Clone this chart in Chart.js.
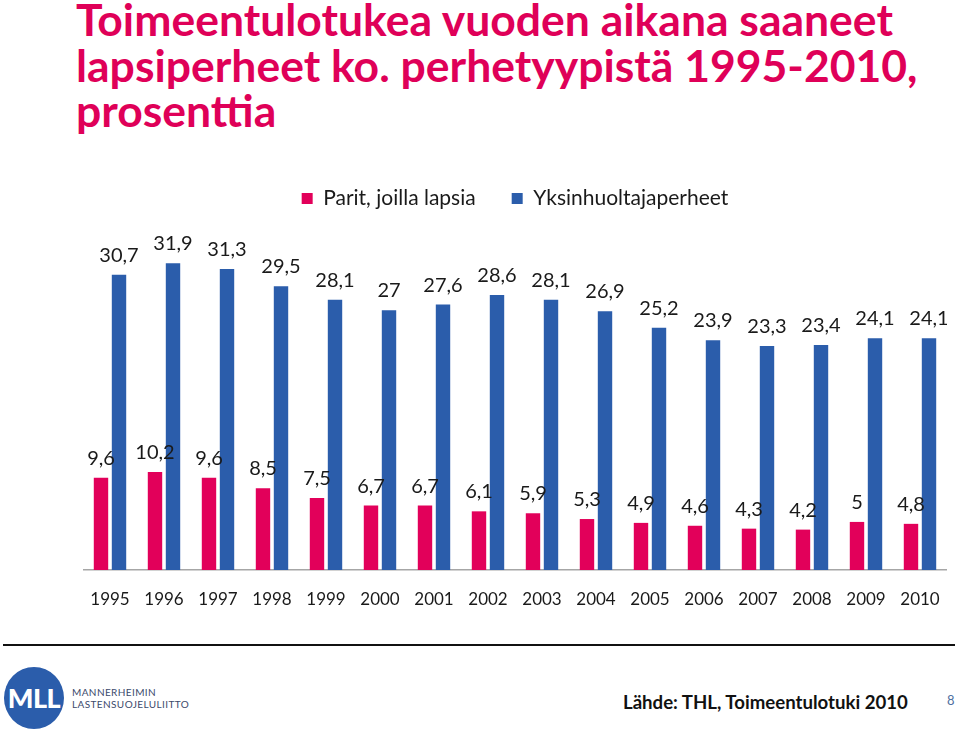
<!DOCTYPE html>
<html><head><meta charset="utf-8">
<script src="https://cdn.jsdelivr.net/npm/chart.js@4.4.1/dist/chart.umd.min.js"></script>
<style>
html,body{margin:0;padding:0;background:#fff;width:959px;height:732px;overflow:hidden;position:relative;font-family:Lato,"Open Sans",sans-serif;}
.t{position:absolute;left:76px;color:#DF0058;font-weight:700;white-space:nowrap;line-height:1.2;}
#cv{position:absolute;left:83px;top:152px;}
#rule{position:absolute;left:3px;top:644px;width:952px;height:2px;background:#111;}
#logo{position:absolute;left:4px;top:667px;width:60px;height:62px;border-radius:50%;background:#2B5DAB;color:#fff;font-weight:900;font-size:27px;text-align:center;line-height:62px;letter-spacing:-0.5px;}
.lt{position:absolute;left:72px;font-size:10px;color:#3B4A6B;letter-spacing:0.4px;line-height:12px;white-space:nowrap;}
#src{position:absolute;left:623px;font-weight:700;color:#111;white-space:nowrap;line-height:1.2;}
#pg{position:absolute;left:947px;top:692px;font-size:13px;color:#4F6FA0;}
</style></head>
<body>
<div class="t" id="t1">Toimeentulotukea vuoden aikana saaneet</div>
<div class="t" id="t2">lapsiperheet ko. perhetyypistä 1995-2010,</div>
<div class="t" id="t3">prosenttia</div>
<canvas id="cv" width="864" height="468"></canvas>
<div id="rule"></div>
<div id="logo">MLL</div>
<div class="lt" style="top:686px">MANNERHEIMIN</div>
<div class="lt" style="top:698px">LASTENSUOJELULIITTO</div>
<div id="src">Lähde: THL, Toimeentulotuki 2010</div>
<div id="pg">8</div>
<script>
const years = ["1995","1996","1997","1998","1999","2000","2001","2002","2003","2004","2005","2006","2007","2008","2009","2010"];
const parit = [9.6,10.2,9.6,8.5,7.5,6.7,6.7,6.1,5.9,5.3,4.9,4.6,4.3,4.2,5,4.8];
const yksin = [30.7,31.9,31.3,29.5,28.1,27,27.6,28.6,28.1,26.9,25.2,23.9,23.3,23.4,24.1,24.1];
const seriesNames = ["Parit, joilla lapsia","Yksinhuoltajaperheet"];

function fitText(el, target, base){
  el.style.fontSize = base + 'px';
  const w = el.getBoundingClientRect().width;
  const s = base * target / w;
  el.style.fontSize = s + 'px';
  return s;
}
function placeBaseline(el, size, baseline){
  el.style.top = (baseline - 0.987*size) + 'px';
}
const s1 = fitText(document.getElementById('t1'), 817, 40);
document.getElementById('t2').style.fontSize = s1 + 'px';
document.getElementById('t3').style.fontSize = s1 + 'px';
placeBaseline(document.getElementById('t1'), s1, 36);
placeBaseline(document.getElementById('t2'), s1, 82);
placeBaseline(document.getElementById('t3'), s1, 127);
const ss = fitText(document.getElementById('src'), 285, 19);
document.getElementById('src').style.top = (702 - 0.6*ss) + 'px';

const labelPlugin = {
  id:'vals',
  afterDatasetsDraw(chart){
    const ctx = chart.ctx;
    ctx.save();
    ctx.font = '20px Lato';
    ctx.fillStyle = '#1a1a1a';
    ctx.textAlign = 'center';
    ctx.textBaseline = 'alphabetic';
    chart.data.datasets.forEach((ds, di) => {
      const meta = chart.getDatasetMeta(di);
      meta.data.forEach((bar, i) => {
        const v = ds.data[i];
        ctx.fillText(String(v).replace('.', ','), bar.x, bar.y - 13);
      });
    });
    ctx.restore();
  }
};

const chart = new Chart(document.getElementById('cv'), {
  type:'bar',
  data:{
    labels: years,
    datasets:[
      {label: seriesNames[0], data: parit, backgroundColor:'#E2005A', barPercentage:0.8, categoryPercentage:0.667},
      {label: seriesNames[1], data: yksin, backgroundColor:'#2B5DAB', barPercentage:0.8, categoryPercentage:0.667}
    ]
  },
  options:{
    responsive:false,
    animation:false,
    layout:{padding:0},
    plugins:{
      legend:{
        position:'top',
        labels:{boxWidth:11, boxHeight:11, padding:36, color:'#1a1a1a', font:{family:'Lato', size:21}}
      },
      tooltip:{enabled:false}
    },
    scales:{
      x:{
        grid:{display:false, drawTicks:true, tickLength:17, tickColor:'rgba(0,0,0,0)'},
        border:{display:true, color:'#A6A6A6', width:1.5},
        ticks:{color:'#1a1a1a', font:{family:'Lato', size:17}, padding:2},
        afterFit(scale){ scale.height = 50; }
      },
      y:{display:false, min:0, max:36.5}
    }
  },
  plugins:[labelPlugin]
});
</script>
</body></html>
